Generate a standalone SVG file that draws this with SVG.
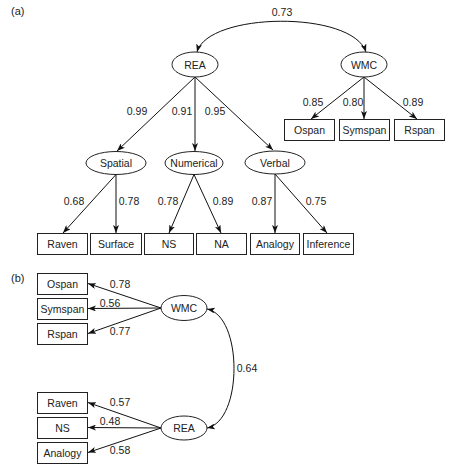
<svg xmlns="http://www.w3.org/2000/svg" width="455" height="472" viewBox="0 0 455 472">
<defs>
<marker id="ah" viewBox="0 0 8 6" refX="8" refY="3" markerWidth="8" markerHeight="6" markerUnits="userSpaceOnUse" orient="auto-start-reverse">
<path d="M0,0 L8,3 L0,6 L2,3 z" fill="#111"/>
</marker>
</defs>
<style>
text{font-family:"Liberation Sans",Arial,sans-serif;font-size:10.5px;fill:#222;text-anchor:middle}
.t{text-anchor:start;font-size:11px}
.n rect,.n ellipse{fill:#fff;stroke:#222;stroke-width:1}
.c path,.c line{stroke:#111;stroke-width:1;fill:none;marker-end:url(#ah)}
.c .b{marker-start:url(#ah)}
</style>
<rect width="455" height="472" fill="#fff"/>
<text class="t" x="11" y="15">(a)</text>
<text class="t" x="11" y="282">(b)</text>

<g id="connectors" class="c">
<path class="b" d="M197,52 C208,12 352,10 366,52"/>
<line x1="195" y1="77" x2="117" y2="151"/>
<line x1="195" y1="77" x2="195" y2="151"/>
<line x1="195" y1="77" x2="273" y2="150"/>
<line x1="364" y1="77" x2="311" y2="119"/>
<line x1="364" y1="77" x2="364" y2="119"/>
<line x1="364" y1="77" x2="417" y2="119"/>
<line x1="116" y1="174.5" x2="63" y2="233"/>
<line x1="116" y1="174.5" x2="116" y2="233"/>
<line x1="194" y1="174.5" x2="169" y2="233"/>
<line x1="194" y1="174.5" x2="221" y2="233"/>
<line x1="275" y1="174" x2="275" y2="233"/>
<line x1="275" y1="174" x2="327" y2="233"/>
<line x1="161" y1="308" x2="88" y2="283.5"/>
<line x1="161" y1="308" x2="88" y2="308.5"/>
<line x1="161" y1="308" x2="88" y2="333.5"/>
<line x1="161" y1="428" x2="88" y2="402.5"/>
<line x1="161" y1="428" x2="88" y2="427.5"/>
<line x1="161" y1="428" x2="88" y2="452.5"/>
<path class="b" d="M207,309 C243,316 243,421 207,428"/>
</g>

<g id="labels">
<text x="282" y="16">0.73</text>
<text x="137" y="115">0.99</text>
<text x="182" y="115">0.91</text>
<text x="215" y="115">0.95</text>
<text x="313" y="106">0.85</text>
<text x="353" y="106">0.80</text>
<text x="413" y="106">0.89</text>
<text x="74" y="205">0.68</text>
<text x="129" y="205">0.78</text>
<text x="168" y="205">0.78</text>
<text x="223" y="205">0.89</text>
<text x="262" y="205">0.87</text>
<text x="316" y="205">0.75</text>
<text x="120" y="288">0.78</text>
<text x="110" y="307">0.56</text>
<text x="120" y="335">0.77</text>
<text x="120" y="406">0.57</text>
<text x="110" y="425">0.48</text>
<text x="120" y="454">0.58</text>
<text x="247" y="372">0.64</text>
</g>

<g id="a-REA" class="n"><ellipse cx="195" cy="64.5" rx="23" ry="12.5"/><text x="195" y="68.5">REA</text></g>
<g id="a-WMC" class="n"><ellipse cx="364" cy="64.5" rx="23" ry="12.5"/><text x="364" y="68.5">WMC</text></g>
<g id="a-Spatial" class="n"><ellipse cx="116" cy="163" rx="30" ry="11.5"/><text x="116" y="167">Spatial</text></g>
<g id="a-Numerical" class="n"><ellipse cx="194" cy="163" rx="29" ry="11.5"/><text x="194" y="167">Numerical</text></g>
<g id="a-Verbal" class="n"><ellipse cx="275" cy="162.5" rx="30" ry="11.5"/><text x="275" y="166.5">Verbal</text></g>

<g id="a-Ospan" class="n"><rect x="284.5" y="119.5" width="50" height="21"/><text x="309.5" y="134">Ospan</text></g>
<g id="a-Symspan" class="n"><rect x="339.5" y="119.5" width="50" height="21"/><text x="364.5" y="134">Symspan</text></g>
<g id="a-Rspan" class="n"><rect x="394.5" y="119.5" width="50" height="21"/><text x="419.5" y="134">Rspan</text></g>

<g id="a-Raven" class="n"><rect x="37.5" y="233.5" width="50" height="21"/><text x="62.5" y="248">Raven</text></g>
<g id="a-Surface" class="n"><rect x="90.5" y="233.5" width="51" height="21"/><text x="116" y="248">Surface</text></g>
<g id="a-NS" class="n"><rect x="144.5" y="233.5" width="49" height="21"/><text x="169" y="248">NS</text></g>
<g id="a-NA" class="n"><rect x="196.5" y="233.5" width="50" height="21"/><text x="221.5" y="248">NA</text></g>
<g id="a-Analogy" class="n"><rect x="250.5" y="233.5" width="49" height="21"/><text x="275" y="248">Analogy</text></g>
<g id="a-Inference" class="n"><rect x="303.5" y="233.5" width="50" height="21"/><text x="328.5" y="248">Inference</text></g>

<g id="b-WMC" class="n"><ellipse cx="184" cy="308" rx="23" ry="12.5"/><text x="184" y="312">WMC</text></g>
<g id="b-REA" class="n"><ellipse cx="184" cy="428" rx="23" ry="12"/><text x="184" y="432">REA</text></g>
<g id="b-Ospan" class="n"><rect x="37.5" y="273.5" width="50" height="21"/><text x="62.5" y="288">Ospan</text></g>
<g id="b-Symspan" class="n"><rect x="37.5" y="298.5" width="50" height="21"/><text x="62.5" y="313">Symspan</text></g>
<g id="b-Rspan" class="n"><rect x="37.5" y="323.5" width="50" height="21"/><text x="62.5" y="338">Rspan</text></g>
<g id="b-Raven" class="n"><rect x="37.5" y="392.5" width="50" height="21"/><text x="62.5" y="407">Raven</text></g>
<g id="b-NS" class="n"><rect x="37.5" y="417.5" width="50" height="21"/><text x="62.5" y="432">NS</text></g>
<g id="b-Analogy" class="n"><rect x="37.5" y="442.5" width="50" height="21"/><text x="62.5" y="457">Analogy</text></g>
</svg>
